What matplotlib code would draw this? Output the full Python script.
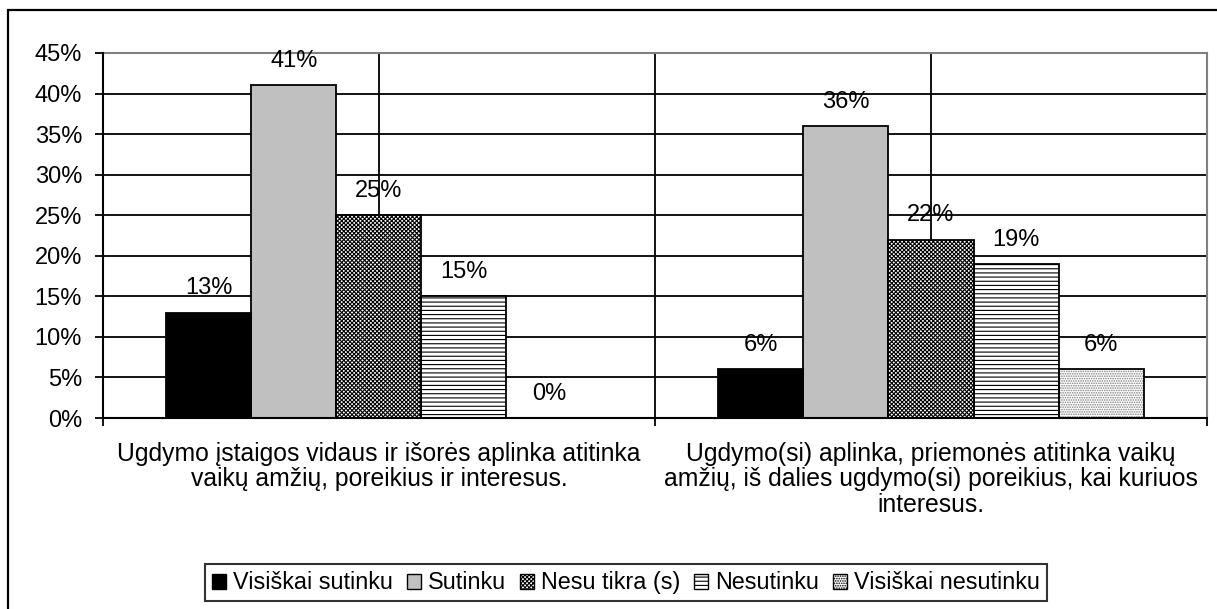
import matplotlib.pyplot as plt
from matplotlib.patches import Patch, Rectangle
import numpy as np

plt.rcParams['font.family'] = ['Liberation Sans', 'DejaVu Sans']
plt.rcParams['hatch.linewidth'] = 0.8

categories = ['Ugdymo įstaigos vidaus ir išorės aplinka atitinka\nvaikų amžių, poreikius ir interesus.',
              'Ugdymo(si) aplinka, priemonės atitinka vaikų\namžių, iš dalies ugdymo(si) poreikius, kai kuriuos\ninteresus.']
series = ['Visiškai sutinku', 'Sutinku', 'Nesu tikra (s)', 'Nesutinku', 'Visiškai nesutinku']
values = [[13, 6], [41, 36], [25, 22], [15, 19], [0, 6]]

faces = ['black', '#c0c0c0', 'white', 'white', 'white']
hatches = [None, None, 'xxxxxxxx', '----', '.......']
hatch_cols = ['black', 'black', 'black', 'black', '#808080']

fs = 17

fig = plt.figure(figsize=(12.17, 6.09), dpi=100)
ax = fig.add_axes([0.0846, 0.3136, 0.9072, 0.5994])

x = np.arange(len(categories))
w = 0.154
for i, (name, vals) in enumerate(zip(series, values)):
    pos = x + (i - 2) * w
    ax.bar(pos, vals, w, color=faces[i], hatch=hatches[i], edgecolor=hatch_cols[i], linewidth=0, zorder=3)
    ax.bar(pos, vals, w, fill=False, edgecolor='black', linewidth=1.3, zorder=4)
    for p, v in zip(pos, vals):
        ax.text(p, v + 1.65, f'{v}%', ha='center', va='bottom', fontsize=fs, zorder=5)

ax.set_xlim(-0.5, 1.5)
ax.set_ylim(0, 45)
ax.set_yticks(np.arange(0, 46, 5))
ax.set_yticklabels([f'{t}%' for t in range(0, 46, 5)], fontsize=fs)
ax.set_xticks(x)
ax.set_xticklabels(categories, fontsize=17.8, linespacing=1.08)
ax.set_xticks([-0.5, 0.5, 1.5], minor=True)
ax.tick_params(axis='x', which='major', length=0, pad=17)
ax.tick_params(axis='x', which='minor', length=6, width=1.3, direction='out')
ax.tick_params(axis='y', length=6, width=1.3, direction='out', pad=9)

ax.grid(axis='y', color='black', linewidth=1.3, zorder=1)
ax.grid(axis='x', which='major', color='black', linewidth=1.3, zorder=1)
ax.axvline(0.5, color='black', linewidth=1.3, zorder=1)

for s in ['left', 'bottom']:
    ax.spines[s].set_linewidth(1.5)
    ax.spines[s].set_zorder(6)
for s in ['top', 'right']:
    ax.spines[s].set_color('#808080')
    ax.spines[s].set_linewidth(1.5)

handles = []
for i, name in enumerate(series):
    try:
        h = Patch(facecolor=faces[i], hatch=hatches[i], edgecolor='black', hatchcolor=hatch_cols[i], linewidth=1)
    except Exception:
        h = Patch(facecolor=faces[i], hatch=hatches[i], edgecolor='black', linewidth=1)
    handles.append(h)
leg = fig.legend(handles, series, loc='center', bbox_to_anchor=(0.5145, 0.0427), ncol=5,
                 fontsize=16.8, frameon=True, fancybox=False, edgecolor='black',
                 handlelength=0.6, handleheight=0.6, handletextpad=0.3, columnspacing=0.6,
                 borderpad=0.3, borderaxespad=0)
leg.get_frame().set_linewidth(1.5)

fig.patches.append(Rectangle((8 / 1217, -0.1), 1.2, (599 / 609) + 0.1, transform=fig.transFigure,
                             fill=False, edgecolor='black', linewidth=1.6))

fig.savefig('out.png', dpi=100)
